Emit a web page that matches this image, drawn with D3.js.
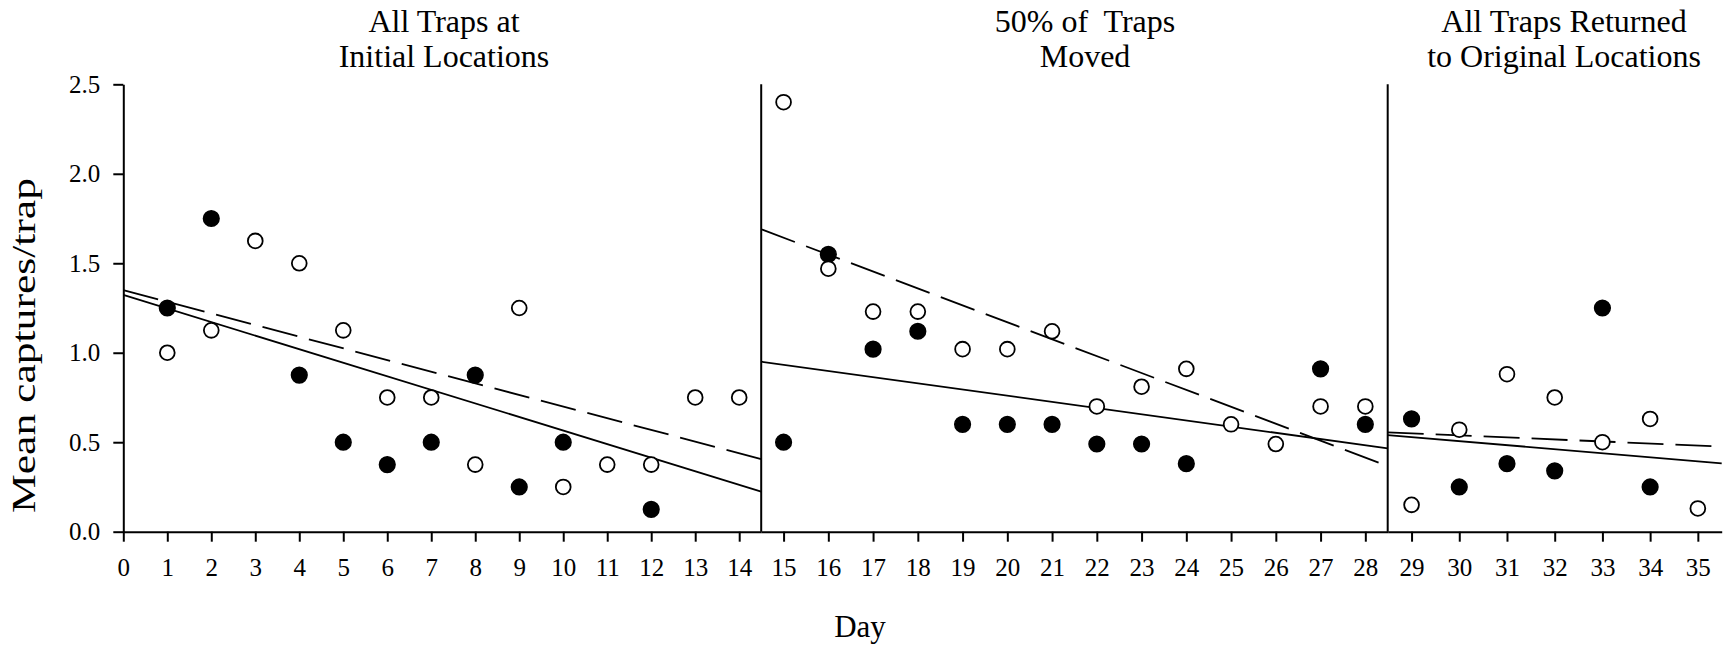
<!DOCTYPE html>
<html>
<head>
<meta charset="utf-8">
<script src="https://cdn.jsdelivr.net/npm/d3@7"></script>
<style>
  body { margin: 0; background: #fff; }
  text { font-family: "Liberation Serif", "Times New Roman", serif; fill: #000; }
</style>
</head>
<body>
<script>
// panel day ranges (axis breaks) and titles
var panelDomains = [[0, 14.5], [14.5, 28.5], [28.5, 35.5]];
var panelTitles = [
  ["All Traps at", "Initial Locations"],
  ["50% of  Traps", "Moved"],
  ["All Traps Returned", "to Original Locations"]
];
var panelTicks = [
  [0, 1, 2, 3, 4, 5, 6, 7, 8, 9, 10, 11, 12, 13, 14],
  [15, 16, 17, 18, 19, 20, 21, 22, 23, 24, 25, 26, 27, 28],
  [29, 30, 31, 32, 33, 34, 35]
];
var yTicks = [0, 0.5, 1.0, 1.5, 2.0, 2.5];

// open circles
var openDays = [1, 2, 3, 4, 5, 6, 7, 8, 9, 10, 11, 12, 13, 14,
  15, 16, 17, 18, 19, 20, 21, 22, 23, 24, 25, 26, 27, 28,
  29, 30, 31, 32, 33, 34, 35];
var openValues = [1.0, 1.125, 1.625, 1.5, 1.125, 0.75, 0.75, 0.375, 1.25, 0.25, 0.375, 0.375, 0.75, 0.75,
  2.4, 1.47, 1.23, 1.23, 1.02, 1.02, 1.12, 0.7, 0.81, 0.91, 0.6, 0.49, 0.7, 0.7,
  0.15, 0.57, 0.88, 0.75, 0.5, 0.63, 0.13];

// filled circles
var filledDays = [1, 2, 4, 5, 6, 7, 8, 9, 10, 12,
  15, 16, 17, 18, 19, 20, 21, 22, 23, 24, 27, 28,
  29, 30, 31, 32, 33, 34];
var filledValues = [1.25, 1.75, 0.875, 0.5, 0.375, 0.5, 0.875, 0.25, 0.5, 0.125,
  0.5, 1.55, 1.02, 1.12, 0.6, 0.6, 0.6, 0.49, 0.49, 0.38, 0.91, 0.6,
  0.63, 0.25, 0.38, 0.34, 1.25, 0.25];

// fitted lines per panel: [day start, value start, day end, value end]
var solidFit = [[0, 1.323, 14.5, 0.224], [14.5, 0.95, 28.5, 0.466], [28.5, 0.54, 35.5, 0.382]];
var dashedFit = [[0, 1.35, 14.5, 0.406], [14.5, 1.69, 28.5, 0.367], [28.5, 0.555, 35.5, 0.476]];

// layout
var W = 1723, H = 645;
var panelRanges = [[123.3, 761.2], [761.2, 1387.7], [1387.7, 1721.7]];
var titleX = [444, 1085, 1564];

var svg = d3.select("body").append("svg")
  .attr("width", W)
  .attr("height", H);

var y = d3.scaleLinear().domain([0, 2.5]).range([531.7, 84.3]);

var xs = panelDomains.map(function(d, i) {
  return d3.scaleLinear().domain(d).range(panelRanges[i]);
});
function panelOf(day) {
  for (var i = 0; i < panelDomains.length; i++) {
    if (day <= panelDomains[i][1]) return i;
  }
  return panelDomains.length - 1;
}
function xDay(day) { return xs[panelOf(day)](day); }

// x axes, one per panel
xs.forEach(function(x, i) {
  svg.append("g")
    .attr("class", "xaxis")
    .attr("transform", "translate(0," + y(0) + ")")
    .call(d3.axisBottom(x)
      .tickValues(panelTicks[i])
      .tickFormat(d3.format("d"))
      .tickSize(10)
      .tickSizeOuter(0)
      .tickPadding(17));
});

// y axis
svg.append("g")
  .attr("class", "yaxis")
  .attr("transform", "translate(" + panelRanges[0][0] + ",0)")
  .call(d3.axisLeft(y)
    .tickValues(yTicks)
    .tickFormat(d3.format(".1f"))
    .tickSize(10)
    .tickSizeOuter(0)
    .tickPadding(13));

svg.selectAll(".xaxis, .yaxis").selectAll("path, line")
  .attr("stroke", "#000")
  .attr("stroke-width", 2);
svg.selectAll(".xaxis, .yaxis").selectAll("text")
  .style("font-family", "'Liberation Serif', 'Times New Roman', serif")
  .style("font-size", "25px")
  .attr("fill", "#000");

// panel dividers
svg.selectAll(".divider")
  .data([1, 2])
  .enter()
  .append("line")
    .attr("x1", function(i) { return xs[i](panelDomains[i][0]); })
    .attr("x2", function(i) { return xs[i](panelDomains[i][0]); })
    .attr("y1", y(0))
    .attr("y2", y(2.5))
    .attr("stroke", "#000")
    .attr("stroke-width", 2);

// fitted lines
function drawFits(fits, dash) {
  svg.append("g")
    .selectAll("line")
    .data(fits)
    .enter()
    .append("line")
      .attr("x1", function(d, i) { return xs[i](d[0]); })
      .attr("y1", function(d) { return y(d[1]); })
      .attr("x2", function(d, i) { return xs[i](d[2]); })
      .attr("y2", function(d) { return y(d[3]); })
      .attr("stroke", "#000")
      .attr("stroke-width", 1.8)
      .attr("stroke-dasharray", dash);
}
drawFits(solidFit, null);
drawFits(dashedFit, "36,12");

// points
svg.append("g")
  .selectAll("circle")
  .data(filledDays)
  .enter()
  .append("circle")
    .attr("cx", function(d) { return xDay(d); })
    .attr("cy", function(d, i) { return y(filledValues[i]); })
    .attr("r", 7.8)
    .attr("fill", "#000")
    .attr("stroke", "#000")
    .attr("stroke-width", 1.6);

svg.append("g")
  .selectAll("circle")
  .data(openDays)
  .enter()
  .append("circle")
    .attr("cx", function(d) { return xDay(d); })
    .attr("cy", function(d, i) { return y(openValues[i]); })
    .attr("r", 7.4)
    .attr("fill", "#fff")
    .attr("stroke", "#000")
    .attr("stroke-width", 1.8);

// panel titles
panelTitles.forEach(function(lines, i) {
  svg.append("text")
    .attr("x", titleX[i])
    .attr("y", 31.7)
    .attr("text-anchor", "middle")
    .style("font-size", "32px")
    .style("white-space", "pre")
    .text(lines[0]);
  svg.append("text")
    .attr("x", titleX[i])
    .attr("y", 66.7)
    .attr("text-anchor", "middle")
    .style("font-size", "32px")
    .style("white-space", "pre")
    .text(lines[1]);
});

// axis labels
svg.append("text")
  .attr("x", 860)
  .attr("y", 636.5)
  .attr("text-anchor", "middle")
  .style("font-size", "31px")
  .text("Day");

svg.append("text")
  .attr("transform", "translate(35,345.5) rotate(-90)")
  .attr("text-anchor", "middle")
  .attr("textLength", 335)
  .attr("lengthAdjust", "spacingAndGlyphs")
  .style("font-size", "33px")
  .text("Mean captures/trap");
</script>
</body>
</html>
